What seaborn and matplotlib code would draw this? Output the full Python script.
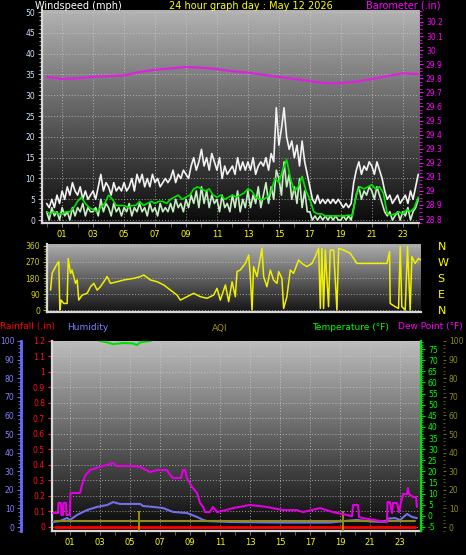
import numpy as np
import matplotlib
matplotlib.use("Agg")
import matplotlib.pyplot as plt
from matplotlib.ticker import MultipleLocator, FixedLocator, FuncFormatter
import seaborn as sns

sns.set_style("dark")
plt.rcParams['font.family'] = ['DejaVu Sans']
plt.rcParams['axes.unicode_minus'] = False

# ---------------- data ----------------
# wind, 10 minute samples from 00:00 to 24:00 (mph)
wind_gust = [4, 3, 5, 3, 6, 4,   7, 5, 8, 6, 9, 7,   6, 8, 5, 7, 5, 6,
             7, 5, 8, 11, 7, 9,  8, 6, 9, 7, 8, 7,   9, 7, 8, 10, 7, 11,
             9, 11, 8, 10, 8, 11,  9, 10, 8, 9, 10, 9,  10, 12, 9, 11, 10, 12,
             11, 10, 13, 15, 12, 14,  17, 13, 15, 12, 16, 14,  12, 15, 10, 13, 11, 12,
             13, 11, 15, 12, 14, 12,  14, 12, 15, 11, 13, 14,  13, 15, 12, 16, 14, 27,
             18, 22, 27, 20, 17, 19,  15, 18, 13, 19, 14, 11,  8, 5, 4, 6, 4, 5,
             4, 5, 4, 5, 4, 5,  4, 3, 4, 3, 4, 9,  12, 14, 11, 13, 12, 14,
             13, 11, 14, 12, 10, 7,  5, 6, 4, 5, 6, 4,  5, 6, 4, 7, 5, 8,  11]
wind_speed = [2, 0, 3, 1, 2, 0,  3, 1, 2, 0, 3, 1,  3, 2, 4, 1, 3, 2,
              2, 3, 1, 5, 2, 4,  3, 1, 4, 2, 3, 1,  3, 2, 4, 1, 3, 2,
              4, 2, 3, 1, 4, 2,  3, 1, 4, 2, 3, 2,  4, 2, 5, 3, 4, 2,
              5, 3, 6, 4, 7, 3,  8, 4, 7, 3, 6, 4,  5, 2, 6, 3, 4, 2,
              6, 3, 7, 2, 5, 3,  7, 3, 6, 4, 8, 3,  6, 9, 4, 8, 5, 12,
              10, 6, 14, 8, 11, 5,  8, 4, 10, 3, 7, 2,  2, 0, 1, 0, 1, 0,
              1, 0, 1, 0, 1, 0,  0, 1, 0, 1, 0, 3,  6, 8, 5, 7, 6, 8,
              7, 5, 8, 6, 4, 2,  1, 2, 0, 1, 2, 0,  2, 1, 3, 0, 2, 3,  5]
# 15 minute average wind (mph)
wind_avg = [2, 1.5, 2, 1.5,  1.5, 2, 2, 3,  4.5, 5.5, 4, 3,  2.5, 2, 3, 4,
            6, 5, 3.5, 3.5,  3.5, 3, 3.5, 3.5,  4.5, 3.5, 4, 4.5,  4, 4.5, 4.5, 4,
            5, 5.5, 6, 5,  5.5, 6, 7.5, 8,  7.5, 7, 7.5, 6,  5.5, 6, 5, 5.5,
            6, 5.5, 6, 6.5,  7.5, 7, 5.5, 5,  5, 5.5, 7, 10,  9, 12, 14.5, 10,
            7, 8, 10.5, 7,  5, 2, 1.5, 1.5,  1, 1, 1, 1,  1, 1, 1.2, 1,
            6.3, 8, 7.5, 8,  8.5, 7.5, 8, 6.5,  1.5, 1.2, 1.5, 2,  1.5, 2.5, 2, 3,  5.5]
# hourly barometer (in)
baro_in = [29.81, 29.795, 29.80, 29.81, 29.815, 29.82, 29.845, 29.86, 29.87,
           29.88, 29.875, 29.865, 29.85, 29.84, 29.825, 29.81, 29.795, 29.78,
           29.765, 29.765, 29.775, 29.795, 29.815, 29.835, 29.83]

# wind direction (hour, degrees)
dir_hours = [0.23, 0.33, 0.55, 0.76, 0.83, 0.91, 1.09, 1.30, 1.37, 1.52, 1.62, 1.84,
             1.95, 2.05, 2.27, 2.59, 2.81, 3.02, 3.24, 3.45, 3.67, 3.88, 4.10, 4.53,
             4.96, 5.60, 6.03, 6.25, 6.68, 7.11, 7.54, 7.97, 8.40, 8.61, 9.04, 9.47,
             9.90, 10.33, 10.76, 10.98, 11.19, 11.52, 11.73, 11.95, 12.16, 12.27, 12.48,
             12.81, 13.02, 13.13, 13.24, 13.34, 13.56, 13.88, 13.99, 14.20, 14.42, 14.63,
             14.85, 14.96, 15.17, 15.28, 15.49, 15.71, 15.92, 16.25, 16.46, 16.78, 17.11,
             17.32, 17.54, 17.65, 17.75, 17.86, 17.97, 18.18, 18.29, 18.51, 18.72, 18.83,
             19.15, 19.58, 20.01, 20.66, 21.30, 21.95, 22.12, 22.16, 22.48, 22.70, 22.81,
             22.91, 23.13, 23.28, 23.45, 23.56, 23.77, 23.99, 24.14]
dir_deg = [112, 206, 244, 272, 0, 56, 37, 37, 290, 206, 225, 150,
           169, 56, 84, 94, 131, 150, 112, 131, 159, 188, 150, 159,
           169, 178, 188, 197, 169, 159, 141, 112, 84, 56, 75, 94,
           75, 66, 84, 122, 56, 141, 47, 159, 75, 216, 225,
           262, 309, 188, 0, 244, 188, 347, 188, 131, 225, 169,
           150, 216, 178, 9, 75, 225, 206, 281, 262, 244, 262,
           300, 347, 9, 347, 9, 337, 19, 337, 337, 0, 347,
           337, 319, 262, 262, 262, 262, 328, 37, 19, 9, 356,
           19, 0, 356, 0, 300, 262, 290, 281]

# dew point (hour, F)
dew_hours = [-0.13, 0.2, 0.23, 0.4, 0.43, 0.53, 0.57, 0.73, 0.77, 1.0, 1.03, 1.67,
             1.8, 2.0, 2.33, 3.0, 3.47, 3.87, 4.13, 4.67, 5.2, 5.67, 6.33, 6.8,
             7.47, 7.67, 7.87, 8.4, 8.53, 8.67, 8.8, 9.13, 9.47, 9.67, 9.87, 10.0,
             10.33, 10.53, 10.8, 11.33, 11.87, 13.0, 14.13, 15.2, 16.13, 16.53, 17.67,
             18.53, 19.47, 19.8, 19.87, 20.2, 20.27, 20.53, 21.67, 22.13, 22.17, 22.33,
             22.47, 22.53, 22.8, 22.93, 23.07, 23.2, 23.47, 23.53, 23.6, 23.87, 24.07, 24.13]
dew_f = [1.3, 1.3, 5.8, 5.8, 0.4, 0.4, 5.8, 5.8, 0.4, 0.4, 10.3, 10.3,
         13.9, 17.9, 20.6, 22, 22.9, 23.8, 22.4, 22.4, 22.4, 22, 19.7, 20.6,
         20.6, 18.4, 17, 17, 20.6, 20.6, 17, 13, 10.3, 5.8, 4, 1.7,
         1.7, 4, 1.7, 2.5, 3.5, 4.9, 4, 2.6, 2.6, 1.7, 3.5,
         1.7, 0.4, -0.2, 4.9, 4.9, -0.5, -1, -2.3, -2.8, 6.2, 6.2,
         1.3, 5.8, 5.8, 1.7, 6.2, 9.8, 9.8, 12.5, 9.8, 8.5, 8.5, 4]

# humidity (hour, %)
hum_hours = [-0.13, 0.33, 0.8, 1.0, 1.47, 2.13, 2.8, 3.47, 3.87, 4.33, 5.0, 5.67,
             5.87, 6.53, 7.2, 7.87, 8.8, 9.47, 9.87, 10.13, 11.67, 15, 18.33, 19.67,
             20.13, 21, 22, 22.2, 22.67, 23, 23.47, 23.8, 24.13]
hum_pct = [2.7, 3.2, 4.8, 3.8, 6.5, 9.1, 10.8, 11.8, 13.4, 12.4, 12.4, 12.4,
           11.3, 10.8, 10.2, 8.1, 7.5, 5.4, 3.8, 3.2, 2.7, 2.4, 2.4, 3.5,
           3.8, 3.0, 2.7, 4.5, 4.8, 3.8, 7.0, 5.4, 4.8]

# temperature (hour, F)
temp_hours = [0, 1, 2, 2.8, 3.47, 3.87, 4.53, 5.2, 5.47, 5.67, 6.33, 6.67,
              8, 10, 12, 14, 16, 18, 20, 22, 24]
temp_f = [84, 82, 80.5, 79, 78, 77.2, 77.7, 77.5, 76.8, 78, 78.6, 79.5,
          84, 90, 95, 98, 98, 96, 92, 88, 85]

# hourly rainfall and AQI
hours = list(range(25))
rain_in = [0, 0, 0, 0, 0, 0, 0, 0, 0, 0, 0, 0, 0, 0, 0, 0, 0, 0, 0, 0, 0, 0, 0, 0, 0]
aqi = [3, 3, 3, 3, 3, 3, 3, 3, 3, 3, 3, 3, 3, 3, 3, 3, 3, 3, 3, 3, 3, 3, 3, 3, 3]

sun_events = [5.6, 19.2]   # sunrise / sunset markers
odd_hours = [1, 3, 5, 7, 9, 11, 13, 15, 17, 19, 21, 23]

wind_hours = np.arange(len(wind_gust)) / 6
avg_hours = np.arange(len(wind_avg)) / 4

# ---------------- figure ----------------
W, H = 466, 555
fig = plt.figure(figsize=(W / 100, H / 100), dpi=100, facecolor='black')


def box(x0, y0, x1, y1):
    return [x0 / W, 1 - y1 / H, (x1 - x0) / W, (y1 - y0) / H]


def ftext(x, y, s, color, ha='left', size=7):
    fig.text(x / W, 1 - y / H, s, color=color, ha=ha, va='center', fontsize=size)


def shade(ax, top, bottom):
    grad = np.linspace(top, bottom, 256).reshape(-1, 1)
    ax.imshow(grad, cmap='gray', vmin=0, vmax=1, extent=[0, 1, 0, 1],
              transform=ax.transAxes, aspect='auto', zorder=0)


def hide_spines(ax):
    for s in ax.spines.values():
        s.set_visible(False)


def frame(ax):
    hide_spines(ax)
    for side in ['left', 'bottom']:
        ax.spines[side].set_visible(True)
        ax.spines[side].set_color('#d8d8d8')
        ax.spines[side].set_linewidth(1.6)


fmt = FuncFormatter(lambda v, _: f"{round(v, 2):g}")
hour_fmt = FuncFormatter(lambda v, _: f"{int(round(v)):02d}")
grid_kw = dict(color='#d0d0d0', linestyle=(0, (1, 2)), linewidth=0.7, alpha=0.7)

# ---- panel 1: wind + barometer ----
ax1 = fig.add_axes(box(42, 10, 419, 223))
ax1.set_facecolor('black')
shade(ax1, 0.70, 0.04)
sns.lineplot(x=wind_hours, y=wind_gust, ax=ax1, color='#f2f2f2', linewidth=1.2, zorder=2)
sns.lineplot(x=wind_hours, y=wind_speed, ax=ax1, color='#c6eec0', linewidth=1.2, zorder=3)
sns.lineplot(x=avg_hours, y=wind_avg, ax=ax1, color='#00e400', linewidth=1.2, zorder=4)
ax1.set_xlim(-0.3, 24.05)
ax1.set_ylim(-0.7, 50.5)
ax1.xaxis.set_major_locator(FixedLocator(odd_hours))
ax1.xaxis.set_minor_locator(MultipleLocator(1))
ax1.xaxis.set_major_formatter(hour_fmt)
ax1.yaxis.set_major_locator(MultipleLocator(5))
ax1.yaxis.set_minor_locator(MultipleLocator(1))
ax1.yaxis.set_major_formatter(fmt)
ax1.tick_params(axis='y', which='both', left=True, colors='#b0b0b0', labelcolor='#cfe4ff',
                labelsize=5.5, length=3, pad=2)
ax1.tick_params(axis='y', which='minor', length=2)
ax1.tick_params(axis='x', which='both', bottom=True, colors='#707070', labelcolor='#ffff00',
                labelsize=6, length=3, pad=2)
ax1.grid(True, which='major', **grid_kw)
ax1.set_xlabel('')
ax1.set_ylabel('')
frame(ax1)

ax1b = ax1.twinx()
sns.lineplot(x=hours, y=baro_in, ax=ax1b, color='#e020e0', linewidth=1.6)
ax1b.set_ylim(28.772, 30.285)
ax1b.yaxis.set_major_locator(MultipleLocator(0.1))
ax1b.yaxis.set_minor_locator(MultipleLocator(0.025))
ax1b.yaxis.set_major_formatter(fmt)
ax1b.tick_params(axis='y', which='both', colors='#ff00ff', labelcolor='#ff00ff',
                 labelsize=5.5, length=3, pad=2)
ax1b.tick_params(axis='y', which='minor', length=2)
ax1b.set_ylabel('')
ax1b.grid(False)
hide_spines(ax1b)

# ---- panel 2: wind direction ----
ax2 = fig.add_axes(box(47, 244, 421, 312))
ax2.set_facecolor('black')
shade(ax2, 0.68, 0.08)
sns.lineplot(x=dir_hours, y=dir_deg, ax=ax2, color='#f0f000', linewidth=1.1, zorder=3)
ax2.set_xlim(0, 24.15)
ax2.set_ylim(-11, 371)
ax2.set_xticks([])
ax2.yaxis.set_major_locator(MultipleLocator(90))
ax2.yaxis.set_minor_locator(MultipleLocator(15))
ax2.tick_params(axis='y', which='both', left=True, colors='#b0b000', labelcolor='#d0d000',
                labelsize=5.5, length=3, pad=2)
ax2.tick_params(axis='y', which='minor', length=2)
ax2.grid(True, axis='y', which='major', **grid_kw)
ax2.set_xlabel('')
ax2.set_ylabel('')
frame(ax2)

ax2r = ax2.twinx()
ax2r.set_ylim(-11, 371)
ax2r.set_yticks([0, 90, 180, 270, 360])
ax2r.set_yticklabels(['N', 'E', 'S', 'W', 'N'])
ax2r.tick_params(axis='y', length=0, pad=12, labelsize=8, labelcolor='#ffff00')
ax2r.grid(False)
hide_spines(ax2r)

# ---- panel 3: rain, humidity, temperature, dew point, AQI ----
ax3 = fig.add_axes(box(52, 341, 421, 531))
ax3.set_facecolor('black')
shade(ax3, 0.74, 0.03)
ax3.set_xlim(-0.2, 24.4)
ax3.set_ylim(-0.026, 1.2)
ax3.xaxis.set_major_locator(FixedLocator(odd_hours))
ax3.xaxis.set_minor_locator(MultipleLocator(1))
ax3.xaxis.set_major_formatter(hour_fmt)
ax3.yaxis.set_major_locator(MultipleLocator(0.1))
ax3.yaxis.set_major_formatter(fmt)
ax3.tick_params(axis='y', which='both', left=True, colors='#ff2020', labelcolor='#ff1010',
                labelsize=5.5, length=3, pad=2)
ax3.tick_params(axis='x', which='both', bottom=True, colors='#707070', labelcolor='#ffff00',
                labelsize=6, length=3, pad=2)
ax3.grid(True, which='major', **grid_kw)
frame(ax3)

# humidity axis, pushed out to the left
ax3h = ax3.twinx()
ax3h.set_ylim(-2.15, 100)
hide_spines(ax3h)
ax3h.spines['left'].set_visible(True)
ax3h.spines['left'].set_position(('outward', 22))
ax3h.spines['left'].set_color('#6a6aff')
ax3h.spines['left'].set_linewidth(2)
ax3h.yaxis.set_ticks_position('left')
ax3h.yaxis.set_major_locator(MultipleLocator(10))
ax3h.yaxis.set_minor_locator(MultipleLocator(2))
ax3h.tick_params(axis='y', which='both', colors='#6a6aff', labelcolor='#8080ff',
                 labelsize=5.5, length=3, pad=2)
ax3h.tick_params(axis='y', which='minor', length=2)
ax3h.grid(False)
ax3h.vlines(sun_events, -2.15, 8.6, color='#b0a000', linewidth=1.2, zorder=2)

# AQI axis far right
ax3a = ax3.twinx()
ax3a.set_ylim(-2.15, 100)
hide_spines(ax3a)
ax3a.spines['right'].set_position(('outward', 16))
ax3a.yaxis.set_major_locator(MultipleLocator(10))
ax3a.yaxis.set_minor_locator(MultipleLocator(2))
ax3a.tick_params(axis='y', which='both', colors='#6a6a10', labelcolor='#8a8a20',
                 labelsize=5.5, length=2.5, pad=1.5)
ax3a.tick_params(axis='y', which='minor', length=1.5)
ax3a.grid(False)

# temperature axis on the right
ax3t = ax3.twinx()
ax3t.set_ylim(-6.8, 78.6)
hide_spines(ax3t)
ax3t.spines['right'].set_visible(True)
ax3t.spines['right'].set_color('#00e000')
ax3t.spines['right'].set_linewidth(1.6)
ax3t.yaxis.set_major_locator(MultipleLocator(5))
ax3t.yaxis.set_minor_locator(MultipleLocator(1))
ax3t.tick_params(axis='y', which='both', colors='#00e000', labelcolor='#00ff00',
                 labelsize=5.5, length=3, pad=2)
ax3t.tick_params(axis='y', which='minor', length=1.5)
ax3t.grid(False)

sns.lineplot(x=hum_hours, y=hum_pct, ax=ax3h, color='#7070e8', linewidth=1.5, zorder=3)
sns.lineplot(x=hours, y=aqi, ax=ax3a, color='#8c8c24', linewidth=1.5, zorder=3)
sns.lineplot(x=hours, y=rain_in, ax=ax3, color='#ff0000', linewidth=2.0, zorder=4)
sns.lineplot(x=temp_hours, y=temp_f, ax=ax3t, color='#00e000', linewidth=1.5, zorder=3)
sns.lineplot(x=dew_hours, y=dew_f, ax=ax3t, color='#e000e0', linewidth=1.5, zorder=3)
for a in [ax3, ax3h, ax3a, ax3t]:
    a.set_xlim(-0.2, 24.4)
    a.set_xlabel('')
    a.set_ylabel('')
ax3.set_ylim(-0.026, 1.2)
ax3h.set_ylim(-2.15, 100)
ax3a.set_ylim(-2.15, 100)
ax3t.set_ylim(-6.8, 78.6)

# ---- titles ----
ftext(35, 6, 'Windspeed (mph)', 'white')
ftext(251, 6, '24 hour graph day : May 12 2026', '#ffff00', ha='center')
ftext(440, 6, 'Barometer (.in)', '#ff00ff', ha='right')
ftext(0, 327, 'Rainfall (.in)', '#ff0000', size=6.5)
ftext(67, 327, 'Humidity', '#8080ff', size=6.5)
ftext(220, 328, 'AQI', '#a09010', ha='center', size=6.5)
ftext(312, 327, 'Temperature (\u00b0F)', '#00ff00', size=6.5)
ftext(463, 327, 'Dew Point (\u00b0F)', '#ff00ff', ha='right', size=6.5)

fig.savefig('out.png', dpi=100, facecolor='black')
